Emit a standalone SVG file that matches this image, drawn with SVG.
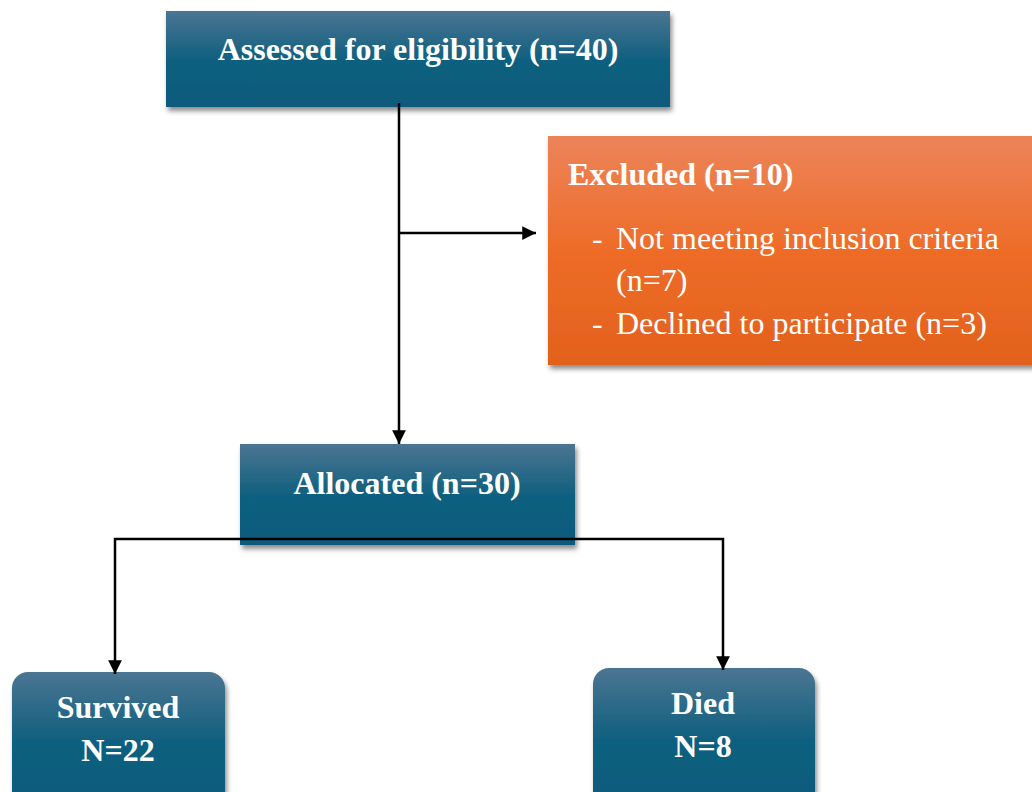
<svg xmlns="http://www.w3.org/2000/svg" width="1032" height="792" viewBox="0 0 1032 792">
<defs>
<linearGradient id="blue" x1="0" y1="0" x2="0" y2="1">
<stop offset="0" stop-color="#4b7592"/>
<stop offset="0.5" stop-color="#11607f"/>
<stop offset="1" stop-color="#0a5a7c"/>
</linearGradient>
<linearGradient id="orange" x1="0" y1="0" x2="0" y2="1">
<stop offset="0" stop-color="#ec845a"/>
<stop offset="0.5" stop-color="#ee6c28"/>
<stop offset="1" stop-color="#e2611c"/>
</linearGradient>
<filter id="sh" x="-10%" y="-10%" width="120%" height="130%">
<feDropShadow dx="2" dy="4" stdDeviation="2.5" flood-color="#000" flood-opacity="0.45"/>
</filter>
<marker id="arr" viewBox="0 0 10 10" refX="10" refY="5" markerWidth="6" markerHeight="5.5" markerUnits="strokeWidth" orient="auto">
<path d="M0,0 L10,5 L0,10 Z" fill="#000"/>
</marker>
</defs>
<style>
.bold{font-family:"Liberation Serif","Times New Roman",serif;font-weight:bold;fill:#fff;font-size:32px}
.reg{font-family:"Liberation Serif","Times New Roman",serif;fill:#fff;font-size:32px}
.ln{stroke:#000;stroke-width:2.5;fill:none}
</style>
<rect width="1032" height="792" fill="#fff"/>
<g id="assessed">
<rect x="166" y="11" width="504" height="96" fill="url(#blue)" filter="url(#sh)"/>
<text class="bold" x="418" y="60" text-anchor="middle">Assessed for eligibility (n=40)</text>
</g>
<g id="excluded">
<rect x="548" y="136" width="490" height="229" fill="url(#orange)" filter="url(#sh)"/>
<text class="bold" x="568" y="185">Excluded (n=10)</text>
<text class="reg" x="592" y="249">-</text>
<text class="reg" x="616" y="249">Not meeting inclusion criteria</text>
<text class="reg" x="616" y="291">(n=7)</text>
<text class="reg" x="592" y="334">-</text>
<text class="reg" x="616" y="334">Declined to participate (n=3)</text>
</g>
<g id="allocated">
<rect x="240" y="444" width="335" height="101" fill="url(#blue)" filter="url(#sh)"/>
<text class="bold" x="407" y="494" text-anchor="middle">Allocated (n=30)</text>
</g>
<g id="survived">
<rect x="12" y="672" width="213" height="135" rx="16" fill="url(#blue)" filter="url(#sh)"/>
<text class="bold" x="118" y="718" text-anchor="middle">Survived</text>
<text class="bold" x="118" y="761" text-anchor="middle">N=22</text>
</g>
<g id="died">
<rect x="593" y="668" width="222" height="140" rx="16" fill="url(#blue)" filter="url(#sh)"/>
<text class="bold" x="703" y="714" text-anchor="middle">Died</text>
<text class="bold" x="703" y="757" text-anchor="middle">N=8</text>
</g>
<g id="connectors">
<line class="ln" x1="399" y1="103" x2="399" y2="444" marker-end="url(#arr)"/>
<line class="ln" x1="399" y1="233" x2="536" y2="233" marker-end="url(#arr)"/>
<polyline class="ln" points="407,539 115,539 115,674" marker-end="url(#arr)"/>
<polyline class="ln" points="407,539 723,539 723,670" marker-end="url(#arr)"/>
</g>
</svg>
